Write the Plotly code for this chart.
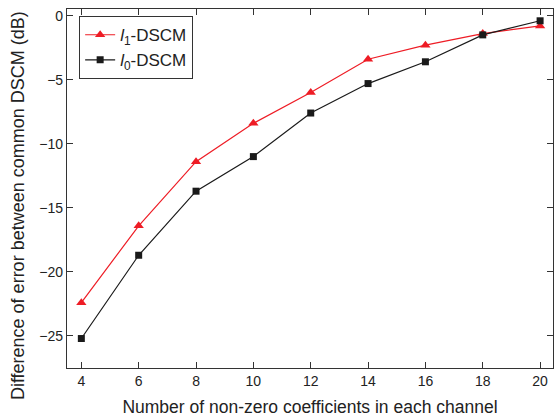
import plotly.graph_objects as go

x_vals = [4, 6, 8, 10, 12, 14, 16, 18, 20]
l1_dscm = [-22.4, -16.4, -11.4, -8.4, -6.0, -3.4, -2.3, -1.4, -0.8]
l0_dscm = [-25.2, -18.7, -13.7, -11.0, -7.6, -5.3, -3.6, -1.5, -0.4]
y_ticks = [0, -5, -10, -15, -20, -25]

font_family = "Liberation Sans, Arial, sans-serif"

fig = go.Figure()
fig.add_trace(go.Scatter(
    x=x_vals, y=l1_dscm, mode="lines+markers",
    name="<i>l</i><sub>1</sub>-DSCM",
    line=dict(color="#ee1c25", width=1.2),
    marker=dict(symbol="triangle-up", size=9, color="#ee1c25"),
))
fig.add_trace(go.Scatter(
    x=x_vals, y=l0_dscm, mode="lines+markers",
    name="<i>l</i><sub>0</sub>-DSCM",
    line=dict(color="#1a1a1a", width=1.2),
    marker=dict(symbol="square", size=7, color="#1a1a1a"),
))

axis_common = dict(
    showline=True, linecolor="#333", linewidth=1.2, mirror="ticks",
    ticks="inside", ticklen=6, tickwidth=1.2, tickcolor="#333",
    showgrid=False, zeroline=False,
    tickfont=dict(size=14, color="#222", family=font_family),
)

fig.update_layout(
    width=554, height=419,
    margin=dict(l=67, r=1, t=9, b=51),
    paper_bgcolor="white", plot_bgcolor="white",
    font=dict(family=font_family, color="#222"),
    xaxis=dict(
        range=[3.5, 20.45], tickvals=x_vals,
        title=dict(text="Number of non-zero coefficients in each channel",
                   font=dict(size=17.5, color="#222"), standoff=12),
        **axis_common,
    ),
    yaxis=dict(
        range=[-27.5, 0.52], tickvals=y_ticks,
        **axis_common,
    ),
    annotations=[dict(
        text="Difference of error between common DSCM (dB)",
        textangle=-90, xref="paper", yref="paper",
        x=-0.1008, y=0.451, xanchor="center", yanchor="middle",
        showarrow=False, font=dict(size=18, color="#222", family=font_family),
    )],
    legend=dict(
        x=0.025, y=0.98, xanchor="left", yanchor="top",
        bordercolor="#333", borderwidth=1, bgcolor="white",
        font=dict(size=17, color="#222", family=font_family),
        tracegroupgap=0, itemwidth=30,
    ),
    showlegend=True,
)

fig.write_html("out.html",
               config={"displayModeBar": False},
               post_script="document.body.style.margin='0';document.body.style.padding='0';")
